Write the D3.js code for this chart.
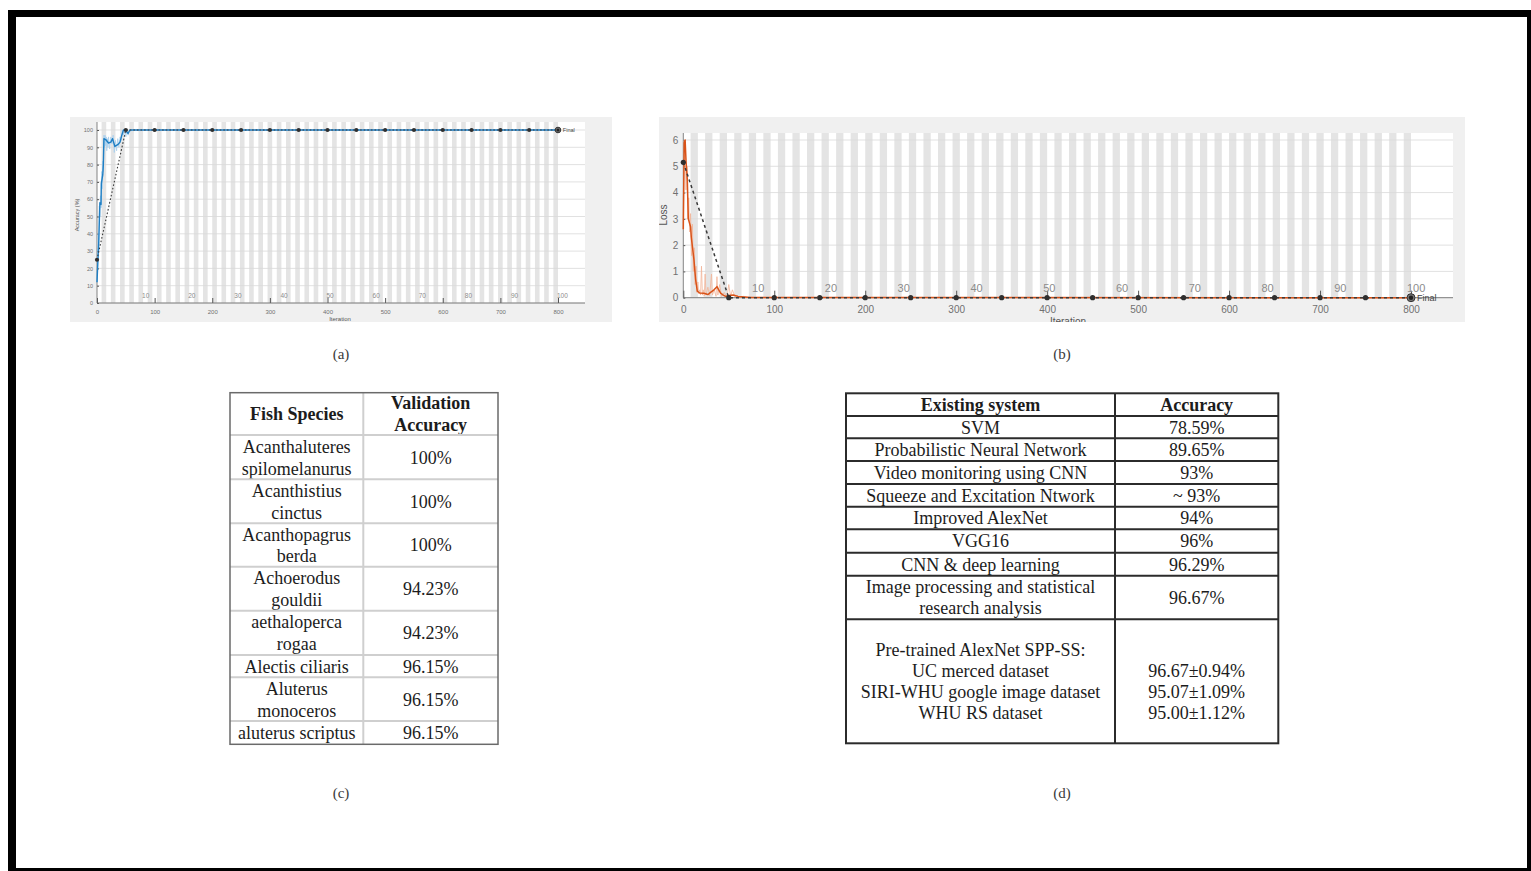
<!DOCTYPE html>
<html>
<head>
<meta charset="utf-8">
<script src="https://cdn.jsdelivr.net/npm/d3@7"></script>
<style>
  body { margin: 0; background: #fff; }
  svg { display: block; }
</style>
</head>
<body>
<svg id="fig"></svg>
<script>
// ---- data ----
let iterTicks = [0, 100, 200, 300, 400, 500, 600, 700, 800]
let epochLabels = [10, 20, 30, 40, 50, 60, 70, 80, 90, 100]
let accTicks = [0, 10, 20, 30, 40, 50, 60, 70, 80, 90, 100]
let lossTicks = [0, 1, 2, 3, 4, 5, 6]
let epochCount = 100
let itersPerEpoch = 8

// (a) accuracy
let accIter = [0, 1, 3, 5, 7, 7.5, 10, 11, 12, 15, 20, 24, 27, 31, 36, 40, 43, 46, 50, 54, 57, 64, 800]
let accSmooth = [12, 20, 35, 58, 57, 69, 74, 80, 95, 94.5, 92.5, 93, 95, 90.5, 91.5, 93, 97, 100, 99.5, 98, 100, 100, 100]
let accRawIter = [0, 1, 2, 3, 4, 5, 6, 7, 8, 9, 10, 11, 12, 13, 14, 15, 16, 17, 18, 19, 20, 22, 24, 26, 28, 30, 32, 34, 36, 38, 40, 42, 44, 46, 48, 50, 52, 54, 56, 58, 60, 800]
let accRaw = [12, 22, 40, 30, 56, 50, 62, 55, 76, 66, 82, 76, 97, 90, 97, 91, 96, 88, 95, 90, 96, 89, 96, 92, 97, 87, 94, 88, 95, 90, 96, 94, 100, 97, 100, 96, 100, 97, 100, 99, 100, 100]
let valIter = [0, 50, 100, 150, 200, 250, 300, 350, 400, 450, 500, 550, 600, 650, 700, 750, 800]
let valAcc = [25, 100, 100, 100, 100, 100, 100, 100, 100, 100, 100, 100, 100, 100, 100, 100, 100]

// (b) loss
let lossIter = [0, 1, 2, 3, 4.4, 5.5, 8, 8.8, 11.7, 13.5, 15.4, 18, 22.7, 27, 30, 33.7, 37, 41, 44, 46.5, 50, 55, 60, 67, 75, 800]
let lossSmooth = [2.6, 5.9, 6.0, 5.2, 4.5, 3.0, 2.7, 2.3, 1.45, 0.7, 0.25, 0.18, 0.17, 0.12, 0.2, 0.3, 0.42, 0.17, 0.1, 0.05, 0.08, 0.1, 0.05, 0.03, 0.01, 0]
let lossRawIter = [0, 1, 2, 3, 4, 5, 6, 7, 8, 9, 10, 11, 12, 13, 14, 15, 16, 17, 18, 19, 20, 21, 22, 23, 24, 25, 27, 29, 31, 32, 34, 36, 37, 38, 40, 42, 45, 48, 50, 52, 54, 57, 59, 62, 66, 70, 800]
let lossRaw = [2.6, 6.0, 5.4, 4.1, 5.0, 3.0, 3.8, 2.5, 3.2, 1.6, 2.8, 1.0, 1.9, 0.5, 1.2, 0.2, 0.6, 0.15, 0.3, 0.1, 1.2, 0.1, 0.3, 0.05, 0.9, 0.1, 0.4, 0.08, 0.9, 0.1, 0.3, 0.05, 0.8, 0.1, 0.5, 0.05, 0.2, 0.02, 0.5, 0.05, 0.3, 0.02, 0.1, 0.01, 0.05, 0.01, 0]
let valLoss = [5.15, 0, 0, 0, 0, 0, 0, 0, 0, 0, 0, 0, 0, 0, 0, 0, 0]

// (c) fish species table
let fishHeader = [["Fish Species"], ["Validation", "Accuracy"]]
let fishSpecies = [
  ["Acanthaluteres", "spilomelanurus"],
  ["Acanthistius", "cinctus"],
  ["Acanthopagrus", "berda"],
  ["Achoerodus", "gouldii"],
  ["aethaloperca", "rogaa"],
  ["Alectis ciliaris"],
  ["Aluterus", "monoceros"],
  ["aluterus scriptus"],
]
let fishAccuracy = ["100%", "100%", "100%", "94.23%", "94.23%", "96.15%", "96.15%", "96.15%"]

// (d) existing systems table
let systemHeader = [["Existing system"], ["Accuracy"]]
let systems = [
  ["SVM"],
  ["Probabilistic Neural Network"],
  ["Video monitoring using CNN"],
  ["Squeeze and Excitation Ntwork"],
  ["Improved AlexNet"],
  ["VGG16"],
  ["CNN & deep learning"],
  ["Image processing and statistical", "research analysis"],
  ["Pre-trained AlexNet SPP-SS:", "UC merced dataset", "SIRI-WHU google image dataset", "WHU RS dataset"],
]
let systemAccuracy = [
  ["78.59%"],
  ["89.65%"],
  ["93%"],
  ["~ 93%"],
  ["94%"],
  ["96%"],
  ["96.29%"],
  ["96.67%"],
  ["", "96.67±0.94%", "95.07±1.09%", "95.00±1.12%"],
]

let captions = ["(a)", "(b)", "(c)", "(d)"]

// ---- layout ----
let width = 1531
let height = 871
let sans = "'Liberation Sans', Arial, sans-serif"
let serif = "'Liberation Serif', 'Times New Roman', serif"

let svg = d3.select('#fig').attr('width', width).attr('height', height)

// black page frame
svg.append('rect').attr('x', 8).attr('y', 10).attr('width', width - 8).attr('height', height - 10).attr('fill', '#000')
svg.append('rect').attr('x', 16).attr('y', 17).attr('width', 1511).attr('height', 851).attr('fill', '#fff')

let drawProgress = (opt) => {
  let [px0, py0, px1, py1] = opt.panel
  svg.append('clipPath').attr('id', opt.id).append('rect')
    .attr('x', px0).attr('y', py0).attr('width', px1 - px0).attr('height', py1 - py0)
  let g = svg.append('g').attr('clip-path', `url(#${opt.id})`)

  g.append('rect')
    .attr('x', px0).attr('y', py0).attr('width', px1 - px0).attr('height', py1 - py0)
    .attr('fill', '#f0f0f0')

  let xScale = d3.scaleLinear().domain([0, 800]).range([opt.x0, opt.x1])
  let yScale = d3.scaleLinear().domain(opt.yDomain).range([opt.yBottom, opt.yTop])

  g.append('rect')
    .attr('x', opt.x0).attr('y', opt.plotTop)
    .attr('width', opt.plotRight - opt.x0).attr('height', opt.yBottom - opt.plotTop)
    .attr('fill', '#fff')

  // alternating epoch bands
  g.selectAll('rect.band')
    .data(d3.range(1, epochCount, 2))
    .enter()
    .append('rect')
    .attr('class', 'band')
    .attr('x', (e) => xScale(e * itersPerEpoch))
    .attr('y', opt.plotTop)
    .attr('width', (e) => xScale((e + 1) * itersPerEpoch) - xScale(e * itersPerEpoch))
    .attr('height', opt.yBottom - opt.plotTop)
    .attr('fill', '#e4e4e4')

  g.selectAll('line.grid')
    .data(opt.yTicks)
    .enter()
    .append('line')
    .attr('class', 'grid')
    .attr('x1', opt.x0).attr('x2', opt.plotRight)
    .attr('y1', (d) => yScale(d)).attr('y2', (d) => yScale(d))
    .attr('stroke', '#d9d9d9')
    .attr('stroke-width', 0.8)

  // axes
  let xAxis = d3.axisBottom(xScale).tickValues(iterTicks).tickFormat(d3.format('d'))
    .tickSizeInner(-opt.xTickLen).tickSizeOuter(0).tickPadding(opt.xPad)
  let gx = g.append('g').attr('transform', 'translate(0,' + opt.yBottom + ')').call(xAxis)
  gx.select('.domain').remove()
  gx.selectAll('.tick line').attr('stroke', '#555')
  gx.selectAll('text').attr('fill', '#707070')
    .style('font-size', opt.xFont + 'px').style('font-family', sans)

  let yAxis = d3.axisLeft(yScale).tickValues(opt.yTicks).tickFormat(d3.format('d'))
    .tickSizeInner(-2).tickSizeOuter(0).tickPadding(opt.yPad)
  let gy = g.append('g').attr('transform', 'translate(' + opt.x0 + ',0)').call(yAxis)
  gy.select('.domain').remove()
  gy.selectAll('.tick line').attr('stroke', '#555')
  gy.selectAll('text').attr('fill', '#707070')
    .style('font-size', opt.yFont + 'px').style('font-family', sans)

  g.append('line')
    .attr('x1', opt.x0).attr('x2', opt.plotRight)
    .attr('y1', opt.yBottom).attr('y2', opt.yBottom)
    .attr('stroke', '#666').attr('stroke-width', 0.8)
  g.append('line')
    .attr('x1', opt.x0).attr('x2', opt.x0)
    .attr('y1', opt.plotTop).attr('y2', opt.yBottom)
    .attr('stroke', '#666').attr('stroke-width', 0.8)

  // epoch labels
  g.selectAll('text.epoch')
    .data(epochLabels)
    .enter()
    .append('text')
    .attr('class', 'epoch')
    .attr('x', (e) => xScale(e * itersPerEpoch) + opt.epochDx)
    .attr('y', opt.epochY)
    .attr('fill', '#8c8c8c')
    .style('font-size', opt.epochFont + 'px')
    .style('font-family', sans)
    .text((e) => e)

  let line = d3.line().x((d) => xScale(d[0])).y((d) => yScale(d[1]))

  g.append('path')
    .datum(d3.zip(opt.rawIter, opt.raw))
    .attr('d', line)
    .attr('fill', 'none')
    .attr('stroke', opt.rawColor)
    .attr('stroke-width', 1)
    .attr('opacity', 0.8)

  g.append('path')
    .datum(d3.zip(opt.iter, opt.smooth))
    .attr('d', line)
    .attr('fill', 'none')
    .attr('stroke', opt.color)
    .attr('stroke-width', opt.lineWidth)
    .attr('stroke-linejoin', 'round')

  let valPts = d3.zip(valIter, opt.val)
  g.append('path')
    .datum(valPts)
    .attr('d', line)
    .attr('fill', 'none')
    .attr('stroke', '#3a3a3a')
    .attr('stroke-width', opt.dashWidth)
    .attr('stroke-dasharray', opt.dash)

  g.selectAll('circle.val')
    .data(valPts.slice(0, -1))
    .enter()
    .append('circle')
    .attr('class', 'val')
    .attr('cx', (d) => xScale(d[0]))
    .attr('cy', (d) => yScale(d[1]))
    .attr('r', opt.dotR)
    .attr('fill', '#2f2f2f')

  let last = valPts[valPts.length - 1]
  g.append('circle')
    .attr('cx', xScale(last[0])).attr('cy', yScale(last[1]))
    .attr('r', opt.finalR)
    .attr('fill', '#777').attr('stroke', '#333').attr('stroke-width', 1)
  g.append('circle')
    .attr('cx', xScale(last[0])).attr('cy', yScale(last[1]))
    .attr('r', opt.finalR * 0.55)
    .attr('fill', '#222')
  g.append('text')
    .attr('x', xScale(last[0]) + opt.finalR + 2)
    .attr('y', yScale(last[1]))
    .attr('dy', '0.35em')
    .attr('fill', '#444')
    .style('font-size', opt.finalFont + 'px')
    .style('font-family', sans)
    .text('Final')

  g.append('text')
    .attr('transform', 'translate(' + opt.yLabelX + ',' + opt.yLabelY + ') rotate(-90)')
    .attr('text-anchor', 'middle')
    .attr('dy', '0.35em')
    .attr('fill', '#555')
    .style('font-size', opt.yLabelFont + 'px')
    .style('font-family', sans)
    .text(opt.yLabel)

  g.append('text')
    .attr('x', opt.xLabelX)
    .attr('y', opt.xLabelY)
    .attr('text-anchor', 'middle')
    .attr('fill', '#555')
    .style('font-size', opt.xLabelFont + 'px')
    .style('font-family', sans)
    .text('Iteration')
}

drawProgress({
  id: 'clipA', panel: [70, 117, 612, 322],
  x0: 97, x1: 558, plotRight: 585, plotTop: 122, yTop: 130, yBottom: 303,
  yDomain: [0, 100], yTicks: accTicks,
  xTickLen: 5, xPad: 7, xFont: 6, yPad: 4, yFont: 5.5,
  epochDx: -1, epochY: 297.5, epochFont: 6.5,
  iter: accIter, smooth: accSmooth, rawIter: accRawIter, raw: accRaw, val: valAcc,
  color: '#1f7fc4', rawColor: '#a9d0ee', lineWidth: 1.4,
  dash: '1.6,2', dashWidth: 1.1, dotR: 2.1, finalR: 2.8, finalFont: 5.5,
  yLabel: 'Accuracy (%)', yLabelX: 77, yLabelY: 215, yLabelFont: 5.5,
  xLabelX: 340, xLabelY: 321, xLabelFont: 6,
})

drawProgress({
  id: 'clipB', panel: [659, 117, 1465, 322],
  x0: 683.3, x1: 1411, plotRight: 1453, plotTop: 133, yTop: 140, yBottom: 297.7,
  yDomain: [0, 6], yTicks: lossTicks,
  xTickLen: 7, xPad: 7.8, xFont: 10, yPad: 5, yFont: 10,
  epochDx: -4, epochY: 292, epochFont: 11,
  iter: lossIter, smooth: lossSmooth, rawIter: lossRawIter, raw: lossRaw, val: valLoss,
  color: '#d95319', rawColor: '#f3b59a', lineWidth: 1.5,
  dash: '3,3', dashWidth: 1.5, dotR: 2.6, finalR: 4, finalFont: 9,
  yLabel: 'Loss', yLabelX: 663, yLabelY: 215, yLabelFont: 10,
  xLabelX: 1068, xLabelY: 325, xLabelFont: 10,
})

// ---- tables ----
let drawTable = (opt) => {
  let g = svg.append('g')
  let rows = [opt.header].concat(opt.col1.map((c, i) => [c, opt.col2[i]]))
  let colCenters = [(opt.cols[0] + opt.cols[1]) / 2, (opt.cols[1] + opt.cols[2]) / 2]

  rows.forEach((row, r) => {
    let mid = (opt.rowEdges[r] + opt.rowEdges[r + 1]) / 2
    row.forEach((lines, c) => {
      let n = lines.length
      g.selectAll(null)
        .data(lines)
        .enter()
        .append('text')
        .attr('x', colCenters[c])
        .attr('y', (d, i) => mid + (i - (n - 1) / 2) * opt.lineGap)
        .attr('dy', '0.36em')
        .attr('text-anchor', 'middle')
        .attr('fill', '#1c1c1c')
        .style('font-size', '18px')
        .style('font-family', serif)
        .style('font-weight', r === 0 ? 'bold' : 'normal')
        .text((d) => d)
    })
  })

  let top = opt.rowEdges[0]
  let bottom = opt.rowEdges[opt.rowEdges.length - 1]
  g.selectAll('line.h')
    .data(opt.rowEdges.slice(1, -1))
    .enter()
    .append('line')
    .attr('x1', opt.cols[0]).attr('x2', opt.cols[2])
    .attr('y1', (d) => d).attr('y2', (d) => d)
    .attr('stroke', opt.innerColor)
    .attr('stroke-width', opt.innerWidth)
  g.append('line')
    .attr('x1', opt.cols[1]).attr('x2', opt.cols[1])
    .attr('y1', top).attr('y2', bottom)
    .attr('stroke', opt.innerColor)
    .attr('stroke-width', opt.innerWidth)
  g.append('rect')
    .attr('x', opt.cols[0]).attr('y', top)
    .attr('width', opt.cols[2] - opt.cols[0]).attr('height', bottom - top)
    .attr('fill', 'none')
    .attr('stroke', opt.outerColor)
    .attr('stroke-width', opt.outerWidth)
}

drawTable({
  header: fishHeader, col1: fishSpecies, col2: fishAccuracy.map((d) => [d]),
  cols: [230, 363.3, 498],
  rowEdges: [392.7, 435, 479.3, 523.3, 566.7, 610.7, 655, 677.3, 721, 744.3],
  lineGap: 21.8,
  innerColor: '#cfcfcf', innerWidth: 2, outerColor: '#6a6a6a', outerWidth: 1.5,
})

drawTable({
  header: systemHeader, col1: systems, col2: systemAccuracy,
  cols: [846, 1115, 1278.3],
  rowEdges: [393.3, 416, 438.3, 461, 484, 506.7, 529.3, 552.7, 575.7, 619.3, 743.3],
  lineGap: 21,
  innerColor: '#2b2b2b', innerWidth: 2, outerColor: '#2b2b2b', outerWidth: 2,
})

// ---- captions ----
let captionPos = [[341, 354], [1062, 354], [341, 793], [1062, 793]]
svg.selectAll('text.caption')
  .data(captions)
  .enter()
  .append('text')
  .attr('class', 'caption')
  .attr('x', (d, i) => captionPos[i][0])
  .attr('y', (d, i) => captionPos[i][1])
  .attr('dy', '0.34em')
  .attr('text-anchor', 'middle')
  .attr('fill', '#3a3a3a')
  .style('font-size', '15px')
  .style('font-family', serif)
  .text((d) => d)
</script>
</body>
</html>
